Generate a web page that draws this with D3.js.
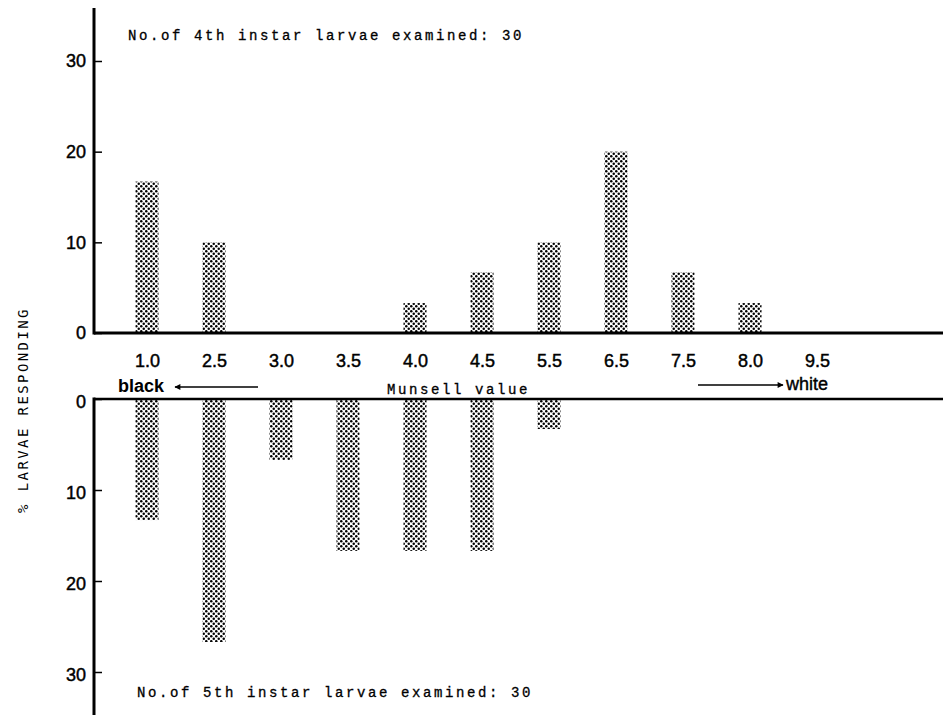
<!DOCTYPE html>
<html>
<head>
<meta charset="utf-8">
<script src="https://cdn.jsdelivr.net/npm/d3@7/dist/d3.min.js"></script>
<style>
  html, body { margin: 0; padding: 0; background: #fff; }
  svg { display: block; }
  .tick text { font-family: "Liberation Sans", Arial, sans-serif; font-size: 18px; fill: #000; stroke: #000; stroke-width: 0.45px; }
  .mono { font-family: "Liberation Mono", "DejaVu Sans Mono", monospace; font-size: 14px; letter-spacing: 2.6px; fill: #000; stroke: #000; stroke-width: 0.3px; }
</style>
</head>
<body>
<svg id="chart" width="943" height="715"></svg>
<script>
// Munsell value steps shown along the middle axis
const munsell = ["1.0", "2.5", "3.0", "3.5", "4.0", "4.5", "5.5", "6.5", "7.5", "8.0", "9.5"];
// % of 4th instar larvae responding (upper panel, n = 30)
const instar4 = [16.7, 10, 0, 0, 3.3, 6.7, 10, 20, 6.7, 3.3, 0];
// % of 5th instar larvae responding (lower panel, n = 30)
const instar5 = [13.3, 26.7, 6.7, 16.7, 16.7, 16.7, 3.3, 0, 0, 0, 0];
// percentage ticks on both vertical axes
const yTicks = [0, 10, 20, 30];

const svg = d3.select("#chart");
const W = 943, H = 715;
const axisX = 94;
const barW = 23;

// stippled fill for the bars
const defs = svg.append("defs");
const pat = defs.append("pattern")
  .attr("id", "stipple").attr("patternUnits", "userSpaceOnUse")
  .attr("width", 5).attr("height", 5);
pat.append("rect").attr("width", 5).attr("height", 5).attr("fill", "#fff");
pat.append("circle").attr("cx", 1.25).attr("cy", 1.25).attr("r", 1.25).attr("fill", "#000");
pat.append("circle").attr("cx", 3.75).attr("cy", 3.75).attr("r", 1.25).attr("fill", "#000");

const x = d3.scalePoint().domain(munsell).range([147, 817]);
const yTop = d3.scaleLinear().domain([0, 30]).range([333, 61]);
const yBot = d3.scaleLinear().domain([0, 30]).range([399, 672]);

// upper panel bars (grow upward)
svg.append("g").selectAll("rect")
  .data(munsell.map((m, i) => ({ m, v: instar4[i] })).filter(d => d.v > 0))
  .join("rect")
  .attr("x", d => x(d.m) - barW / 2)
  .attr("width", barW)
  .attr("y", d => yTop(d.v))
  .attr("height", d => yTop(0) - yTop(d.v))
  .attr("fill", "url(#stipple)");

// lower panel bars (hang downward)
svg.append("g").selectAll("rect")
  .data(munsell.map((m, i) => ({ m, v: instar5[i] })).filter(d => d.v > 0))
  .join("rect")
  .attr("x", d => x(d.m) - barW / 2)
  .attr("width", barW)
  .attr("y", yBot(0))
  .attr("height", d => yBot(d.v) - yBot(0))
  .attr("fill", "url(#stipple)");

// vertical axes with inward ticks
function yAxis(scale) {
  return d3.axisLeft(scale).tickValues(yTicks).tickFormat(d3.format("d"))
    .tickSizeInner(-8).tickSizeOuter(0).tickPadding(8);
}
const gTop = svg.append("g").attr("transform", `translate(${axisX},0)`).call(yAxis(yTop));
const gBot = svg.append("g").attr("transform", `translate(${axisX},0)`).call(yAxis(yBot));
[gTop, gBot].forEach(g => {
  g.select(".domain").remove();
  g.selectAll(".tick line").attr("stroke", "#000").attr("stroke-width", 1.5);
});
gBot.selectAll(".tick text").attr("dy", "0.45em");

// axis lines
const line = (x1, y1, x2, y2, w) => svg.append("line")
  .attr("x1", x1).attr("y1", y1).attr("x2", x2).attr("y2", y2)
  .attr("stroke", "#000").attr("stroke-width", w);
line(axisX, 8, axisX, yTop(0) + 1.5, 3);
line(axisX, yBot(0) - 1.5, axisX, H, 3);
line(axisX, yTop(0), W, yTop(0), 3);
line(axisX, yBot(0), W, yBot(0), 2.5);

// Munsell value labels between the panels
const gx = svg.append("g").attr("transform", `translate(0,${yTop(0)})`)
  .call(d3.axisBottom(x).tickSize(0).tickPadding(21));
gx.select(".domain").remove();

// direction arrows
const arrowHead = defs.append("marker").attr("id", "head")
  .attr("viewBox", "0 0 10 10").attr("refX", 9).attr("refY", 5)
  .attr("markerWidth", 7).attr("markerHeight", 6).attr("markerUnits", "userSpaceOnUse")
  .attr("orient", "auto");
arrowHead.append("path").attr("d", "M0,0 L10,5 L0,10 Z").attr("fill", "#000");

svg.append("text").attr("x", 118).attr("y", 392)
  .attr("font-family", "Liberation Sans, Arial, sans-serif").attr("font-size", 18)
  .attr("font-weight", "bold").text("black");
svg.append("line").attr("x1", 258).attr("y1", 387).attr("x2", 175).attr("y2", 387)
  .attr("stroke", "#000").attr("stroke-width", 1.5).attr("marker-end", "url(#head)");

svg.append("line").attr("x1", 698).attr("y1", 385).attr("x2", 783).attr("y2", 385)
  .attr("stroke", "#000").attr("stroke-width", 1.5).attr("marker-end", "url(#head)");
svg.append("text").attr("x", 786).attr("y", 390)
  .attr("font-family", "Liberation Sans, Arial, sans-serif").attr("font-size", 18)
  .attr("stroke", "#000").attr("stroke-width", 0.4).text("white");

svg.append("text").attr("class", "mono").attr("x", 387).attr("y", 394).text("Munsell value");

// sample sizes
svg.append("text").attr("class", "mono").attr("x", 128).attr("y", 40)
  .text("No.of 4th instar larvae examined: 30");
svg.append("text").attr("class", "mono").attr("x", 137).attr("y", 697)
  .text("No.of 5th instar larvae examined: 30");

// vertical axis title
svg.append("text")
  .attr("transform", "translate(28,410) rotate(-90)")
  .attr("text-anchor", "middle")
  .attr("font-family", "DejaVu Sans Mono, monospace").attr("font-size", 14)
  .attr("letter-spacing", "2.4px")
  .text("% LARVAE RESPONDING");
</script>
</body>
</html>
